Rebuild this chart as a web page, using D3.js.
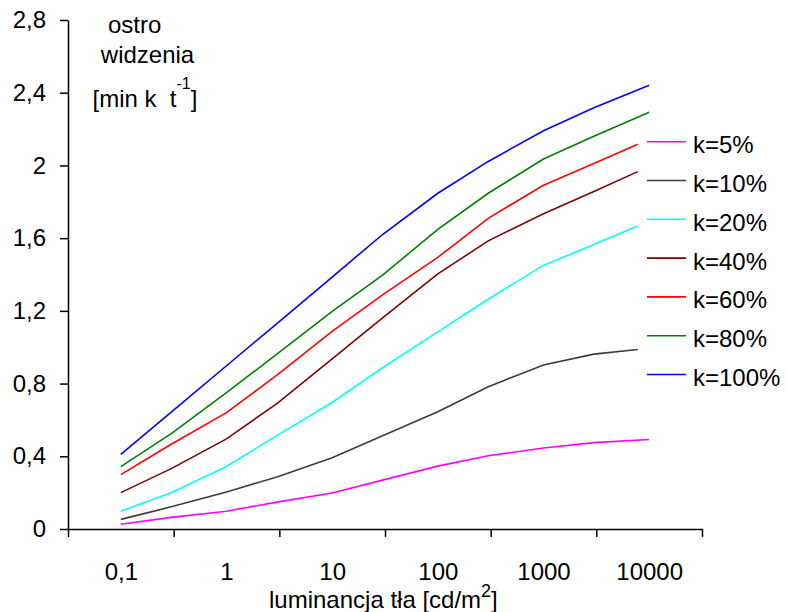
<!DOCTYPE html>
<html>
<head>
<meta charset="utf-8">
<script src="https://cdn.jsdelivr.net/npm/d3@7"></script>
<style>
  body { margin: 0; background: #fff; }
  svg { font-family: "Liberation Sans", Arial, sans-serif; }
</style>
</head>
<body>
<svg id="chart" width="787" height="612"></svg>
<script>
// luminance points (last point differs per series)
const luminance = [0.1, 0.3, 1, 3, 10, 30, 100, 300, 1000, 3000];
const lastLuminance = [10000, 7800, 7800, 7800, 7800, 10000, 10000];

const seriesNames = ['k=5%', 'k=10%', 'k=20%', 'k=40%', 'k=60%', 'k=80%', 'k=100%'];
const seriesColors = ['#ff00ff', '#3c3c3c', '#00ffff', '#800000', '#ff0000', '#008000', '#0000ff'];

const k5   = [0.026, 0.064, 0.098, 0.148, 0.198, 0.269, 0.346, 0.403, 0.446, 0.475, 0.492];
const k10  = [0.053, 0.122, 0.204, 0.286, 0.392, 0.513, 0.645, 0.783, 0.902, 0.962, 0.987];
const k20  = [0.098, 0.200, 0.344, 0.514, 0.696, 0.887, 1.084, 1.264, 1.450, 1.565, 1.667];
const k40  = [0.200, 0.332, 0.496, 0.690, 0.936, 1.162, 1.403, 1.585, 1.734, 1.856, 1.966];
const k60  = [0.299, 0.466, 0.640, 0.847, 1.087, 1.288, 1.494, 1.709, 1.891, 2.011, 2.117];
const k80  = [0.343, 0.525, 0.750, 0.962, 1.197, 1.397, 1.648, 1.847, 2.035, 2.160, 2.293];
const k100 = [0.411, 0.643, 0.898, 1.130, 1.386, 1.620, 1.847, 2.022, 2.191, 2.317, 2.441];
const seriesValues = [k5, k10, k20, k40, k60, k80, k100];

const yTicks = [0, 0.4, 0.8, 1.2, 1.6, 2, 2.4, 2.8];
const xLabelValues = [0.1, 1, 10, 100, 1000, 10000];
const xLabels = ['0,1', '1', '10', '100', '1000', '10000'];
// tick marks sit between the labels
const xTickValues = [-1.5, -0.5, 0.5, 1.5, 2.5, 3.5, 4.5].map(e => Math.pow(10, e));

const svg = d3.select('#chart');

const x = d3.scaleLog()
  .domain([Math.pow(10, -1.5), Math.pow(10, 4.5)])
  .range([68, 702]);

const y = d3.scaleLinear()
  .domain([0, 2.8])
  .range([529, 20]);

// x axis: ticks
svg.append('g')
  .attr('transform', 'translate(0,529)')
  .call(d3.axisBottom(x).tickValues(xTickValues).tickSize(8).tickSizeOuter(0).tickFormat(''))
  .call(g => g.selectAll('line, path').attr('stroke', '#000').attr('stroke-width', 1.5));

// x axis: labels
svg.append('g')
  .attr('transform', 'translate(0,529)')
  .call(d3.axisBottom(x).tickValues(xLabelValues).tickSize(0).tickPadding(34)
    .tickFormat((d, i) => xLabels[i]))
  .call(g => g.select('.domain').remove())
  .call(g => g.selectAll('text').attr('font-size', 24).attr('font-family', null).attr('fill', '#000'));

// y axis
svg.append('g')
  .attr('transform', 'translate(68,0)')
  .call(d3.axisLeft(y).tickValues(yTicks).tickSize(8).tickSizeOuter(0).tickPadding(14)
    .tickFormat(d => String(d).replace('.', ',')))
  .call(g => g.selectAll('line, path').attr('stroke', '#000').attr('stroke-width', 1.5))
  .call(g => g.selectAll('text').attr('font-size', 24).attr('font-family', null).attr('fill', '#000'));

// lines
const line = d3.line()
  .x(d => x(d[0]))
  .y(d => y(d[1]));

seriesValues.forEach((vals, i) => {
  const xs = luminance.concat([lastLuminance[i]]);
  svg.append('path')
    .datum(vals.map((v, j) => [xs[j], v]))
    .attr('fill', 'none')
    .attr('stroke', seriesColors[i])
    .attr('stroke-width', 1.6)
    .attr('d', line);
});

// legend
const legend = svg.append('g');
seriesNames.forEach((name, i) => {
  const ly = 141.7 + i * 38.8;
  legend.append('line')
    .attr('x1', 647).attr('x2', 686)
    .attr('y1', ly).attr('y2', ly)
    .attr('stroke', seriesColors[i])
    .attr('stroke-width', 1.6);
  legend.append('text')
    .attr('x', 693).attr('y', ly + 11.5)
    .attr('font-size', 24)
    .text(name);
});

// y title
svg.append('text').attr('x', 134.7).attr('y', 33).attr('text-anchor', 'middle')
  .attr('font-size', 24).text('ostro');
svg.append('text').attr('x', 147.5).attr('y', 63).attr('text-anchor', 'middle')
  .attr('font-size', 24).text('widzenia');
const yt = svg.append('text').attr('x', 92.5).attr('y', 106.5)
  .attr('font-size', 24).style('white-space', 'pre');
yt.append('tspan').text('[min k  t');
yt.append('tspan').attr('font-size', 16).attr('dy', -18).text('-1');
yt.append('tspan').attr('dy', 18).text(']');

// x title
const xt = svg.append('text').attr('x', 269).attr('y', 608)
  .attr('font-size', 24);
xt.append('tspan').text('luminancja tła [cd/m');
xt.append('tspan').attr('font-size', 18).attr('dy', -11).text('2');
xt.append('tspan').attr('dy', 11).text(']');
</script>
</body>
</html>
